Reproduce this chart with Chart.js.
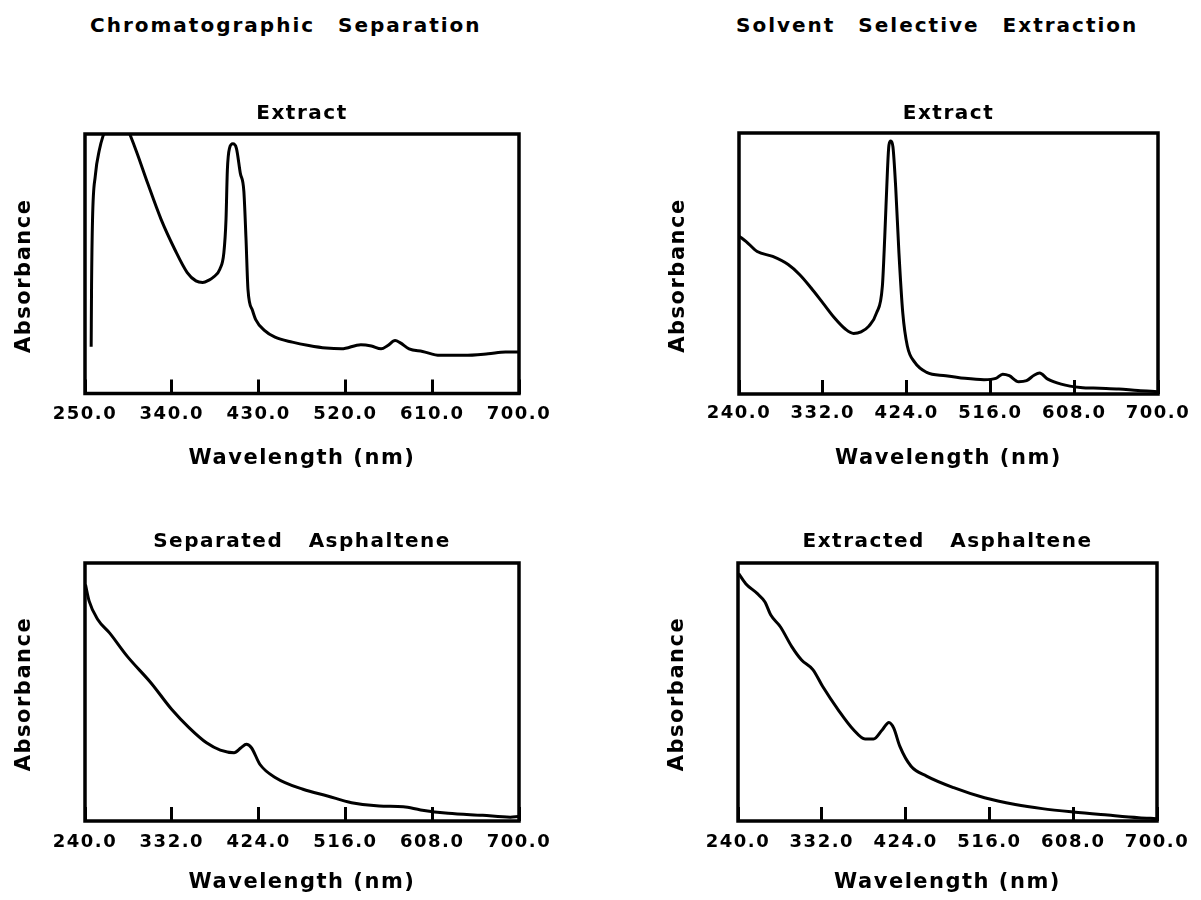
<!DOCTYPE html>
<html>
<head>
<meta charset="utf-8">
<title>Absorbance spectra</title>
<script src="https://cdn.jsdelivr.net/npm/chart.js@4.4.1/dist/chart.umd.min.js"></script>
<style>
  body { margin: 0; background: #fff; overflow: hidden; }
  #page { position: relative; width: 1201px; height: 900px; overflow: hidden; }
  canvas { position: absolute; }
  .bigtitle {
    position: absolute; top: 13px; height: 24px; line-height: 24px;
    font: bold 20px "DejaVu Sans", sans-serif; letter-spacing: 2px; word-spacing: 14px;
    color: #000; white-space: nowrap;
  }
</style>
</head>
<body>
<div id="page">
  <div class="bigtitle" style="left:90px">Chromatographic Separation</div>
  <div class="bigtitle" style="left:736px">Solvent Selective Extraction</div>
  <canvas id="c1" width="590" height="390" style="left:0;top:90px"></canvas>
  <canvas id="c2" width="630" height="390" style="left:600px;top:90px"></canvas>
  <canvas id="c3" width="590" height="390" style="left:0;top:520px"></canvas>
  <canvas id="c4" width="630" height="390" style="left:600px;top:520px"></canvas>
</div>
<script>
// Chromatographic Separation - Extract
const wl1 = [256.4, 256.8, 257.8, 260.7, 265, 268.5, 272, 283, 296.4, 304, 315, 329, 343, 356, 365, 372, 379,
  382.7, 389.8, 394, 396.2, 397.6, 399.8, 403.3, 407, 411, 414.7, 416.9, 419, 423.7, 427, 436, 447, 465,
  482, 500, 516, 536, 547, 557, 564, 571.5, 577, 586, 600, 618, 643, 668, 686, 700];
const abs1 = [0.18, 0.415, 0.67, 0.84, 0.94, 0.99, 1.02, 1.12, 1.0, 0.926, 0.81, 0.67, 0.556, 0.466, 0.434, 0.428, 0.438,
  0.447, 0.479, 0.543, 0.67, 0.86, 0.945, 0.962, 0.945, 0.85, 0.78, 0.6, 0.4, 0.32, 0.285, 0.243, 0.217, 0.198,
  0.185, 0.175, 0.172, 0.188, 0.183, 0.172, 0.185, 0.204, 0.195, 0.172, 0.162, 0.147, 0.147, 0.153, 0.16, 0.16];

// Solvent Selective Extraction - Extract
const wl2 = [240.5, 247.6, 260, 277, 294, 306.7, 319, 332, 344.7, 357, 365.8, 374, 382.6, 391, 397.4, 400, 403,
  404.6, 406.7, 409, 412, 415.6, 419.8, 424.8, 433, 446, 467, 488, 509, 522, 529.5, 536.7, 547, 555.7, 564,
  570, 579, 593.7, 614.8, 636, 657, 678, 699.5];
const abs2 = [0.604, 0.585, 0.546, 0.527, 0.496, 0.457, 0.407, 0.349, 0.292, 0.248, 0.232, 0.238, 0.26, 0.311, 0.413,
  0.6, 0.858, 0.953, 0.969, 0.947, 0.794, 0.54, 0.311, 0.184, 0.121, 0.083, 0.07, 0.06, 0.055, 0.06, 0.076,
  0.07, 0.047, 0.051, 0.072, 0.08, 0.057, 0.038, 0.025, 0.022, 0.019, 0.013, 0.009];

// Chromatographic Separation - Separated Asphaltene
const wl3 = [240.5, 244.4, 253.5, 266, 284.6, 310, 332, 350.5, 368.8, 383.4, 398, 405.4, 411, 416.4, 425.5, 442,
  471, 497, 522.5, 551.8, 577.4, 595.7, 624.9, 661.5, 690.8, 699];
const abs3 = [0.916, 0.852, 0.781, 0.729, 0.639, 0.535, 0.432, 0.361, 0.303, 0.275, 0.265, 0.284, 0.297, 0.284, 0.219,
  0.168, 0.123, 0.097, 0.071, 0.058, 0.055, 0.043, 0.03, 0.022, 0.015, 0.017];

// Solvent Selective Extraction - Extracted Asphaltene
const wl4 = [240.8, 248.5, 261, 269.6, 276, 286.5, 299, 309.8, 322.4, 333, 350, 366.8, 379.5, 388.8, 398.5, 405.7,
  411, 417.6, 430, 447, 476.8, 510.6, 544.4, 574, 607.8, 646, 680, 699];
const abs4 = [0.959, 0.92, 0.882, 0.849, 0.798, 0.753, 0.676, 0.624, 0.586, 0.521, 0.431, 0.354, 0.318, 0.318, 0.354,
  0.382, 0.36, 0.29, 0.212, 0.174, 0.129, 0.09, 0.064, 0.048, 0.035, 0.023, 0.013, 0.009];

const ticks1 = { min: 250, max: 700, step: 90 };
const ticks2 = { min: 240, max: 700, step: 92 };

const FONT = '"DejaVu Sans", sans-serif';

// Rahmen um den Plotbereich, Buchstabenabstand, Versatz des y-Titels
const framePlugin = {
  id: 'frame',
  beforeLayout(chart) { chart.ctx.letterSpacing = '1.5px'; },
  afterLayout(chart, args, opts) {
    const y = chart.scales.y;
    if (!y || y._shifted) return;
    const orig = y.drawTitle;
    y.drawTitle = function () {
      this.ctx.save();
      this.ctx.translate(0, opts.yTitleShift || 0);
      orig.call(this);
      this.ctx.restore();
    };
    y._shifted = true;
  },
  beforeDraw(chart) { chart.ctx.letterSpacing = '1.5px'; },
  afterDraw(chart) {
    const { ctx, chartArea: a } = chart;
    ctx.save();
    ctx.strokeStyle = '#000';
    ctx.lineWidth = 3.5;
    ctx.strokeRect(a.left, a.top, a.right - a.left, a.bottom - a.top);
    ctx.restore();
  }
};

function makeChart(id, title, xs, ys, range, lay) {
  const points = xs.map((x, i) => ({ x: x, y: ys[i] }));
  return new Chart(document.getElementById(id), {
    type: 'line',
    data: {
      datasets: [{
        data: points,
        borderColor: '#000',
        borderWidth: 3,
        pointRadius: 0,
        fill: false,
        cubicInterpolationMode: 'monotone',
        clip: 0
      }]
    },
    options: {
      responsive: false,
      animation: false,
      events: [],
      layout: { padding: { left: 0, top: 0, bottom: 0, right: lay.right } },
      plugins: {
        legend: { display: false },
        tooltip: { enabled: false },
        frame: { yTitleShift: lay.yShift },
        title: {
          display: true,
          text: title,
          color: '#000',
          fullSize: false,
          font: { family: FONT, size: 20, weight: 'bold', lineHeight: 1.2 },
          padding: { top: lay.titleTop, bottom: lay.titleBottom }
        }
      },
      scales: {
        x: {
          type: 'linear',
          min: range.min,
          max: range.max,
          border: { display: false },
          grid: { display: true, drawOnChartArea: false, drawTicks: true, tickLength: -14, tickWidth: 3, tickColor: '#000' },
          ticks: {
            stepSize: range.step,
            autoSkip: false,
            maxRotation: 0,
            color: '#000',
            padding: lay.tickPad,
            font: { family: FONT, size: 18, weight: 'bold' },
            callback: v => v.toFixed(1)
          },
          title: {
            display: true,
            text: 'Wavelength (nm)',
            color: '#000',
            font: { family: FONT, size: 21, weight: 'bold', lineHeight: 1.2 },
            padding: { top: 0, bottom: lay.xTitleBottom }
          },
          afterFit: s => { s.height = lay.xHeight; }
        },
        y: {
          min: 0,
          max: 1,
          border: { display: false },
          grid: { display: false },
          ticks: { display: false },
          title: {
            display: true,
            text: 'Absorbance',
            color: '#000',
            font: { family: FONT, size: 21, weight: 'bold', lineHeight: 1.2 },
            padding: { top: lay.yTitleTop, bottom: 0 }
          },
          afterFit: s => { s.width = lay.yWidth; }
        }
      }
    },
    plugins: [framePlugin]
  });
}

makeChart('c1', 'Extract', wl1, abs1, ticks1,
  { right: 71, yWidth: 85, xHeight: 86.5, titleTop: 11.4, titleBottom: 8.6, tickPad: 24, xTitleBottom: 9, yTitleTop: 12, yShift: 12 });
makeChart('c2', 'Extract', wl2, abs2, ticks2,
  { right: 72, yWidth: 139, xHeight: 86, titleTop: 11.4, titleBottom: 7.6, tickPad: 23, xTitleBottom: 9, yTitleTop: 66, yShift: 12 });
makeChart('c3', 'Separated   Asphaltene', wl3, abs3, ticks2,
  { right: 71, yWidth: 85, xHeight: 89, titleTop: 9.9, titleBottom: 9.1, tickPad: 25, xTitleBottom: 15, yTitleTop: 12, yShift: 2 });
makeChart('c4', 'Extracted   Asphaltene', wl4, abs4, ticks2,
  { right: 73, yWidth: 138, xHeight: 89, titleTop: 9.9, titleBottom: 9.1, tickPad: 25, xTitleBottom: 15, yTitleTop: 65, yShift: 2 });
</script>
</body>
</html>
